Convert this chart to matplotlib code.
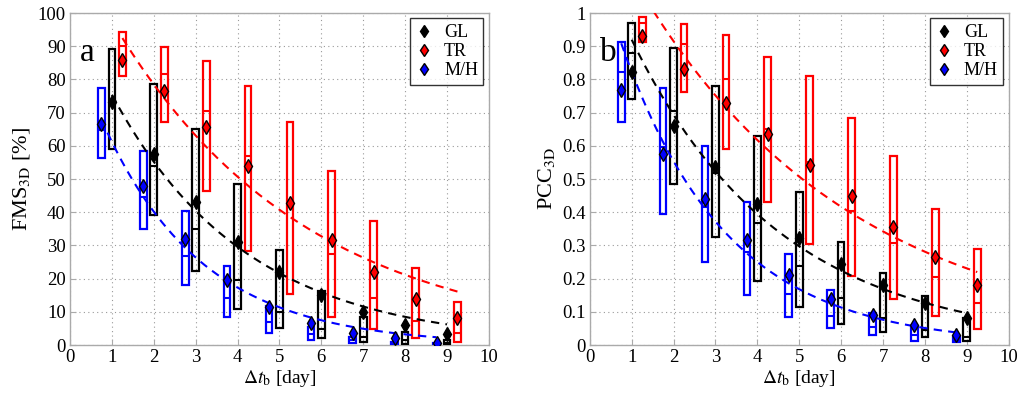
import numpy as np
import matplotlib
matplotlib.use("Agg")
import matplotlib.pyplot as plt
from matplotlib.lines import Line2D

plt.rcParams['font.family'] = ['Liberation Serif', 'DejaVu Serif']
plt.rcParams['mathtext.fontset'] = 'stix'

days = [1, 2, 3, 4, 5, 6, 7, 8, 9]
groups = ['GL', 'TR', 'M/H']
colors = {'GL': 'black', 'TR': 'red', 'M/H': 'blue'}
offsets = {'GL': 0.0, 'TR': 0.25, 'M/H': -0.25}

# panel a: FMS_3D [%]
fms_top = {'GL': [89.1, 78.6, 65.1, 48.5, 28.6, 16.3, 8.5, 3.9, 1.5],
           'TR': [94.3, 89.8, 85.7, 77.9, 67.3, 52.5, 37.5, 23.2, 13.0],
           'M/H': [77.4, 58.5, 40.5, 23.7, 11.8, 5.4, 2.4, 1.0, 0.5]}
fms_bot = {'GL': [59.1, 39.2, 22.2, 10.8, 5.0, 2.2, 0.9, 0.2, 0.0],
           'TR': [81.1, 67.1, 46.5, 28.4, 15.5, 8.3, 4.7, 2.0, 1.0],
           'M/H': [56.2, 35.0, 18.0, 8.3, 3.5, 1.5, 0.7, 0.2, 0.0]}
fms_med = {'GL': [73.5, 54.0, 35.0, 19.6, 10.0, 4.9, 2.5, 1.5, 0.7],
           'TR': [90.0, 81.7, 70.5, 56.9, 43.0, 27.4, 14.3, 7.1, 3.7],
           'M/H': [64.8, 44.6, 26.9, 14.3, 6.8, 3.4, 1.5, 0.6, 0.2]}
fms_mean = {'GL': [73.1, 57.5, 43.2, 30.9, 21.9, 15.1, 10.0, 6.0, 3.2],
            'TR': [85.9, 76.6, 65.7, 54.0, 42.7, 31.5, 21.9, 14.0, 8.1],
            'M/H': [66.6, 48.0, 31.9, 19.6, 11.5, 6.7, 3.7, 2.2, 0.5]}
# exponential fits a*exp(-b*t)
fms_fit = {'GL': (103.0, 0.312), 'TR': (121.5, 0.2185), 'M/H': (93.2, 0.421)}
fms_err = 1.2

# panel b: PCC_3D
pcc_top = {'GL': [0.970, 0.895, 0.779, 0.631, 0.461, 0.311, 0.217, 0.149, 0.082],
           'TR': [0.988, 0.968, 0.935, 0.869, 0.811, 0.685, 0.570, 0.410, 0.289],
           'M/H': [0.914, 0.774, 0.601, 0.430, 0.273, 0.167, 0.097, 0.056, 0.023]}
pcc_bot = {'GL': [0.741, 0.484, 0.324, 0.193, 0.114, 0.062, 0.038, 0.023, 0.011],
           'TR': [0.914, 0.762, 0.591, 0.430, 0.304, 0.207, 0.139, 0.086, 0.048],
           'M/H': [0.673, 0.395, 0.251, 0.152, 0.084, 0.051, 0.030, 0.013, 0.008]}
pcc_med = {'GL': [0.881, 0.705, 0.517, 0.367, 0.237, 0.141, 0.081, 0.045, 0.025],
           'TR': [0.970, 0.906, 0.802, 0.651, 0.550, 0.405, 0.308, 0.205, 0.126],
           'M/H': [0.821, 0.595, 0.417, 0.281, 0.155, 0.087, 0.054, 0.030, 0.015]}
pcc_mean = {'GL': [0.821, 0.661, 0.535, 0.424, 0.321, 0.243, 0.180, 0.126, 0.081],
            'TR': [0.930, 0.831, 0.730, 0.635, 0.542, 0.449, 0.355, 0.266, 0.180],
            'M/H': [0.767, 0.575, 0.439, 0.316, 0.210, 0.139, 0.091, 0.059, 0.030]}
pcc_fit = {'GL': (1.22, 0.2825), 'TR': (1.356, 0.1967), 'M/H': (1.224, 0.397)}
pcc_err = 0.012

box_w = 0.16


def draw_panel(ax, top, bot, med, mean, fit, err, ymax, yticks, ylabel, tag):
    for g in groups:
        c = colors[g]
        x = np.array(days) + offsets[g]
        t = np.array(top[g])
        b = np.array(bot[g])
        ax.bar(x, t - b, bottom=b, width=box_w, fill=False, edgecolor=c,
               linewidth=1.6, zorder=3)
        ax.hlines(med[g], x - box_w / 2, x + box_w / 2, colors=c, linewidth=1.5, zorder=3)
        a, k = fit[g]
        xf = np.linspace(x[0], x[-1], 200)
        ax.plot(xf, a * np.exp(-k * xf), linestyle=(0, (4, 3)), color=c,
                linewidth=1.5, zorder=4)
        ax.errorbar(x, mean[g], yerr=err, fmt='d', color='black', ecolor='black',
                    elinewidth=0.8, capsize=0, markersize=7, markerfacecolor=c,
                    markeredgecolor='black', markeredgewidth=1.0, zorder=5)

    ax.set_xlim(0, 10)
    ax.set_ylim(0, ymax)
    ax.set_xticks(range(0, 11))
    ax.set_yticks(yticks)
    ax.grid(True, linestyle=(0, (1, 3)), color='#999999', linewidth=0.8)
    ax.set_axisbelow(True)
    for s in ax.spines.values():
        s.set_color('#aaaaaa')
        s.set_linewidth(1.0)
    ax.tick_params(direction='in', length=4, color='#aaaaaa', labelsize=13.5,
                   labelcolor='black', pad=3)
    ax.set_xlabel(r'$\Delta t_\mathrm{b}$ [day]', fontsize=14, labelpad=1)
    ax.set_ylabel(ylabel, fontsize=16, labelpad=4)
    ax.text(0.24, 0.88 * ymax, tag, fontsize=24, ha='left', va='center')

    handles = [Line2D([], [], marker='d', linestyle='none', markersize=6,
                      markerfacecolor=colors[g], markeredgecolor='black')
               for g in groups]
    leg = ax.legend(handles, groups, loc='upper right', fontsize=13,
                    frameon=True, fancybox=False, handlelength=1.0,
                    borderaxespad=0.3, labelspacing=0.12, handletextpad=0.6,
                    borderpad=0.3)
    leg.get_frame().set_edgecolor('black')
    leg.get_frame().set_linewidth(1.0)


fig = plt.figure(figsize=(10.24, 3.99), dpi=100)
ax1 = fig.add_axes([0.0684, 0.1353, 0.409, 0.832])
ax2 = fig.add_axes([0.576, 0.1353, 0.409, 0.832])

draw_panel(ax1, fms_top, fms_bot, fms_med, fms_mean, fms_fit, fms_err, 100,
           np.arange(0, 101, 10), r'FMS$_\mathrm{3D}$ [%]', 'a')
draw_panel(ax2, pcc_top, pcc_bot, pcc_med, pcc_mean, pcc_fit, pcc_err, 1.0,
           [0, 0.1, 0.2, 0.3, 0.4, 0.5, 0.6, 0.7, 0.8, 0.9, 1],
           r'PCC$_\mathrm{3D}$', 'b')
ax2.set_yticklabels(['0', '0.1', '0.2', '0.3', '0.4', '0.5', '0.6', '0.7', '0.8', '0.9', '1'])

fig.savefig('out.png', dpi=100)
